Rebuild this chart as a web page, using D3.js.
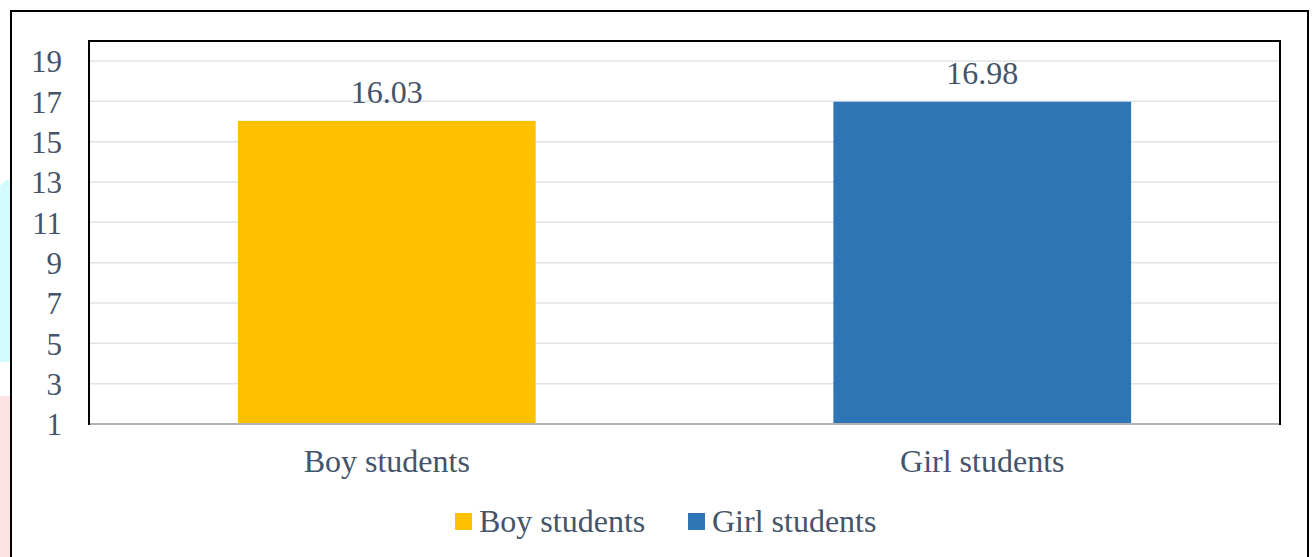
<!DOCTYPE html>
<html>
<head>
<meta charset="utf-8">
<script src="https://cdn.jsdelivr.net/npm/d3@7"></script>
<style>
  body { margin: 0; background: #fff; }
  text { font-family: 'Liberation Serif', 'Times New Roman', serif; fill: #44546a; }
</style>
</head>
<body>
<div id="chart"></div>
<script>
const categories = ['Boy students', 'Girl students'];
const values = [16.03, 16.98];
const colors = ['#ffc000', '#2e75b6'];
const yTicks = [1, 3, 5, 7, 9, 11, 13, 15, 17, 19];

const W = 1312, H = 557;
const plot = {left: 89, top: 41, right: 1280, bottom: 424};

const svg = d3.select('#chart').append('svg')
    .attr('width', W)
    .attr('height', H);

// faint page tints on the far left
svg.append('path')
    .attr('d', 'M0,186 L6,180 L11,180 L11,362 L0,362 Z')
    .attr('fill', '#d4fbfc');
svg.append('rect')
    .attr('x', 0).attr('y', 396).attr('width', 11).attr('height', H - 396)
    .attr('fill', '#fde3e3');

// outer frame (bottom edge runs off the picture)
svg.append('path')
    .attr('d', `M11,${H + 5} L11,11 L1308,11 L1308,${H + 5}`)
    .attr('fill', 'none')
    .attr('stroke', '#000')
    .attr('stroke-width', 2);

const x = d3.scaleBand()
    .domain(categories)
    .range([plot.left, plot.right])
    .paddingInner(0.5)
    .paddingOuter(0.25);

const y = d3.scaleLinear()
    .domain([1, 19])
    .range([plot.bottom, plot.top + 20]);

// gridlines
svg.append('g')
    .selectAll('line')
    .data(yTicks.filter((d) => d > 1))
    .enter()
    .append('line')
    .attr('x1', plot.left)
    .attr('x2', plot.right)
    .attr('y1', (d) => y(d))
    .attr('y2', (d) => y(d))
    .attr('stroke', '#dfe3ea')
    .attr('stroke-width', 1.5);

// y tick labels
const yAxis = svg.append('g')
    .attr('transform', 'translate(' + (plot.left - 27) + ',0)')
    .call(d3.axisLeft(y).tickValues(yTicks).tickSize(0).tickPadding(0));
yAxis.select('.domain').remove();
yAxis.selectAll('text')
    .attr('font-size', 31)
    .attr('font-family', 'Liberation Serif')
    .attr('fill', '#44546a')
    .attr('dy', '0.35em')
    .attr('text-anchor', 'end');

// bars
svg.append('g')
    .selectAll('rect')
    .data(categories)
    .enter()
    .append('rect')
    .attr('x', (d) => x(d))
    .attr('width', x.bandwidth())
    .attr('y', (d, i) => y(values[i]))
    .attr('height', (d, i) => y(1) - y(values[i]))
    .attr('fill', (d, i) => colors[i]);

// value labels
svg.append('g')
    .selectAll('text')
    .data(categories)
    .enter()
    .append('text')
    .attr('x', (d) => x(d) + x.bandwidth() / 2)
    .attr('y', (d, i) => y(values[i]) - 18)
    .attr('text-anchor', 'middle')
    .attr('font-size', 32)
    .text((d, i) => values[i].toFixed(2));

// x axis baseline
svg.append('line')
    .attr('x1', plot.left)
    .attr('x2', plot.right)
    .attr('y1', y(1))
    .attr('y2', y(1))
    .attr('stroke', '#b3b3b3')
    .attr('stroke-width', 2);

// category labels
const xAxis = svg.append('g')
    .attr('transform', 'translate(0,' + y(1) + ')')
    .call(d3.axisBottom(x).tickSize(0).tickPadding(0));
xAxis.select('.domain').remove();
xAxis.selectAll('text')
    .attr('font-size', 32)
    .attr('font-family', 'Liberation Serif')
    .attr('fill', '#44546a')
    .attr('dy', 0)
    .attr('y', 48);

// plot frame
svg.append('path')
    .attr('d', `M${plot.left},${plot.bottom + 1} L${plot.left},${plot.top} ` +
        `L${plot.right},${plot.top} L${plot.right},${plot.bottom + 1}`)
    .attr('fill', 'none')
    .attr('stroke', '#000')
    .attr('stroke-width', 2);

// legend
const legendX = [455, 688];
const legend = svg.append('g')
    .selectAll('g')
    .data(categories)
    .enter()
    .append('g')
    .attr('transform', (d, i) => 'translate(' + legendX[i] + ',513)');
legend.append('rect')
    .attr('width', 17)
    .attr('height', 17)
    .attr('fill', (d, i) => colors[i]);
legend.append('text')
    .attr('x', 24)
    .attr('y', 19)
    .attr('font-size', 32)
    .text((d) => d);
</script>
</body>
</html>
